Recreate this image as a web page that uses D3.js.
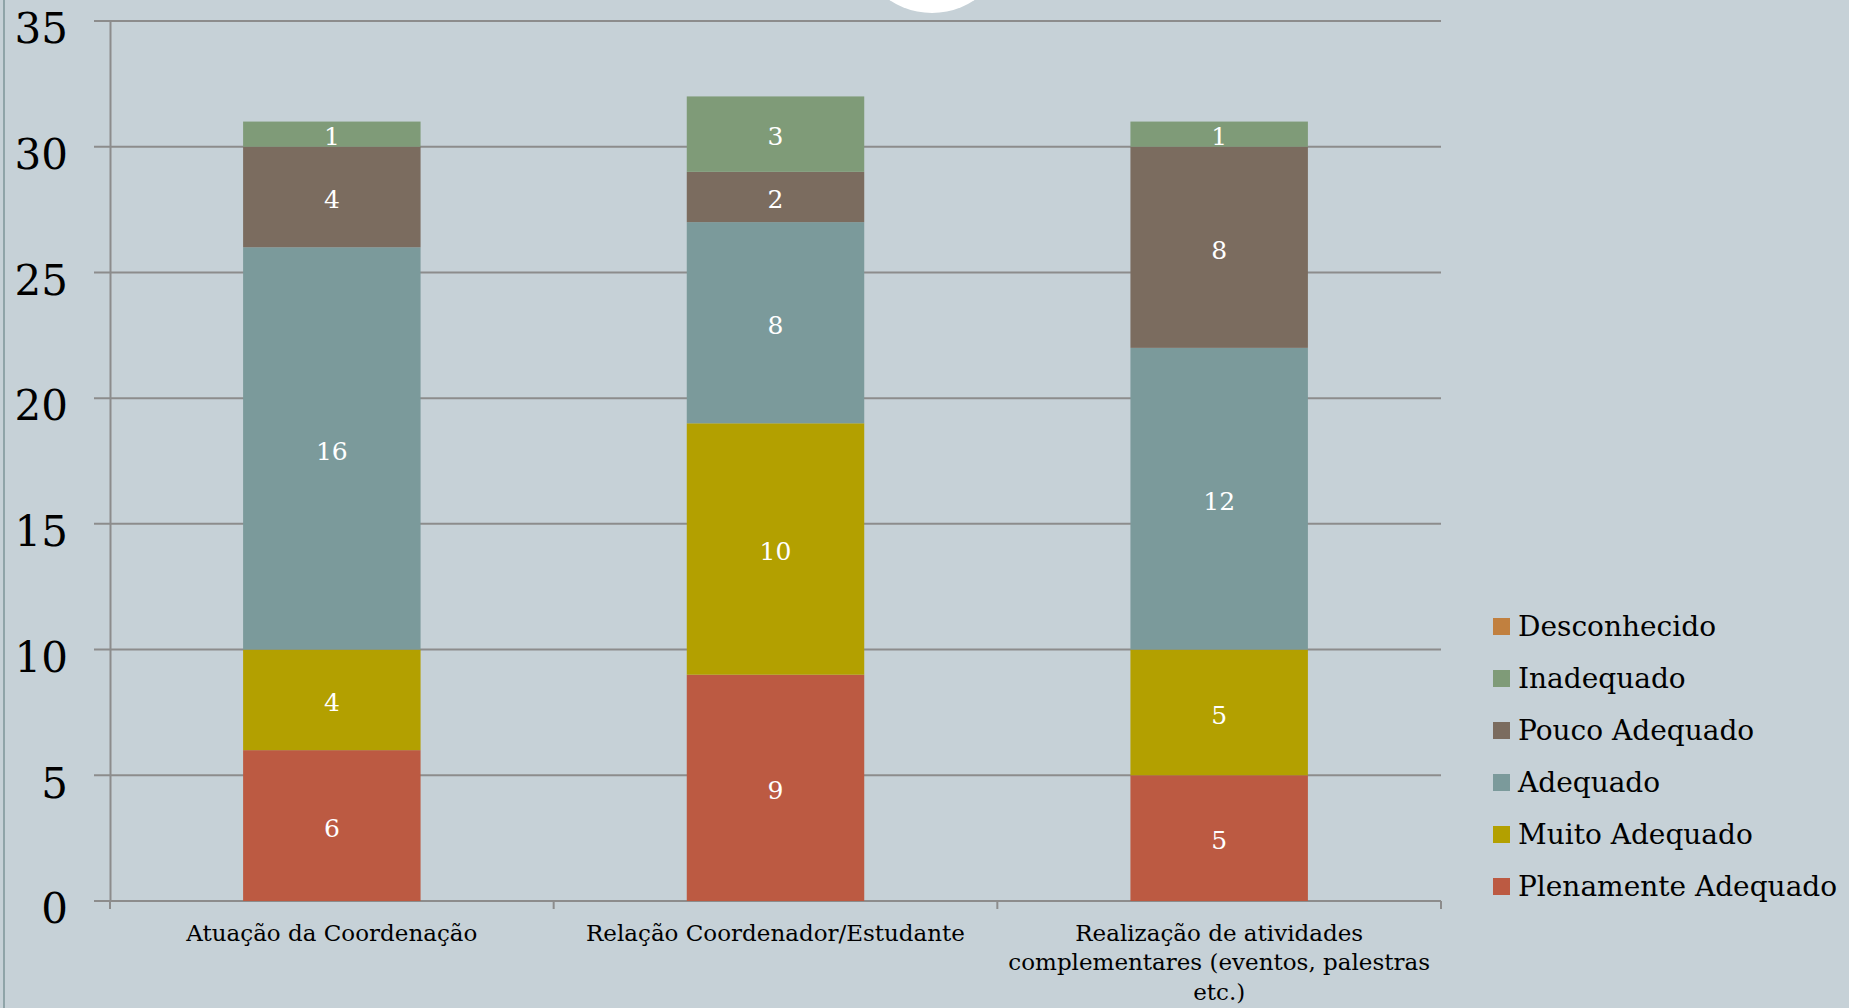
<!DOCTYPE html>
<html>
<head>
<meta charset="utf-8">
<script src="https://cdn.jsdelivr.net/npm/d3@7"></script>
<style>
  body { margin: 0; background: #c6d1d7; }
  svg text { font-family: "DejaVu Serif", serif; }
</style>
</head>
<body>
<div id="chart"></div>
<script>
// Categories on the x axis
let categories = ["Atuação da Coordenação", "Relação Coordenador/Estudante",
    "Realização de atividades complementares (eventos, palestras etc.)"];

// Series, bottom of the stack first
let seriesNames = ["Plenamente Adequado", "Muito Adequado", "Adequado",
    "Pouco Adequado", "Inadequado", "Desconhecido"];
let plenamente = [6, 9, 5];
let muito = [4, 10, 5];
let adequado = [16, 8, 12];
let pouco = [4, 2, 8];
let inadequado = [1, 3, 1];
let desconhecido = [0, 0, 0];
let seriesValues = [plenamente, muito, adequado, pouco, inadequado, desconhecido];
let colors = ["#bc5a42", "#b3a000", "#7b9a9b", "#7b6c5f", "#7f9b78", "#c1803f"];

let yTicks = [0, 5, 10, 15, 20, 25, 30, 35];

let width = 1849,
    height = 1008;
let margin = {top: 21, right: 408, bottom: 107, left: 110};

let svg = d3.select("#chart")
    .append("svg")
    .attr("width", width)
    .attr("height", height);

// slide decoration: left border and white circle peeking from the top
svg.append("rect")
    .attr("x", 3).attr("y", 0)
    .attr("width", 2).attr("height", height)
    .attr("fill", "#8fa4a8");
svg.append("circle")
    .attr("cx", 932).attr("cy", -63).attr("r", 76)
    .attr("fill", "#ffffff");

// build rows for d3.stack
let rows = categories.map((c, i) => {
    let row = {category: c};
    seriesNames.forEach((s, j) => row[s] = seriesValues[j][i]);
    return row;
});
let stacked = d3.stack().keys(seriesNames)(rows);

let x = d3.scaleBand()
    .domain(categories)
    .range([margin.left, width - margin.right])
    .paddingInner(0.6)
    .paddingOuter(0.3);

let y = d3.scaleLinear()
    .domain([0, 35])
    .range([height - margin.bottom, margin.top]);

let color = d3.scaleOrdinal().domain(seriesNames).range(colors);

// gridlines (they also stick out to the left as ticks)
svg.append("g")
    .selectAll("line")
    .data(yTicks)
    .enter()
    .append("line")
    .attr("x1", margin.left - 16)
    .attr("x2", width - margin.right)
    .attr("y1", d => y(d))
    .attr("y2", d => y(d))
    .attr("stroke", "#8c8c8c")
    .attr("stroke-width", 2);

// y axis with labels
let yAxis = svg.append("g")
    .attr("transform", `translate(${margin.left}, 0)`)
    .call(d3.axisLeft(y).tickValues(yTicks).tickSize(0).tickSizeOuter(0).tickPadding(42));
yAxis.select(".domain").attr("stroke", "#8c8c8c").attr("stroke-width", 2);
yAxis.selectAll("text")
    .attr("dy", "0.52em")
    .style("font-size", "42px")
    .style("font-family", '"DejaVu Serif", serif')
    .attr("fill", "#000");

// category separators on the x axis
let bounds = d3.range(categories.length + 1).map(i => margin.left + i * x.step());
svg.append("g")
    .selectAll("line")
    .data(bounds)
    .enter()
    .append("line")
    .attr("x1", d => d).attr("x2", d => d)
    .attr("y1", y(0)).attr("y2", y(0) + 8)
    .attr("stroke", "#8c8c8c")
    .attr("stroke-width", 2);

// stacked bars
let layers = svg.append("g")
    .selectAll("g")
    .data(stacked)
    .enter()
    .append("g")
    .attr("fill", d => color(d.key));

layers.selectAll("rect")
    .data(d => d)
    .enter()
    .append("rect")
    .attr("x", d => x(d.data.category))
    .attr("y", d => y(d[1]))
    .attr("width", x.bandwidth())
    .attr("height", d => y(d[0]) - y(d[1]));

// value labels inside segments
layers.selectAll("text")
    .data(d => d.filter(p => p[1] - p[0] > 0))
    .enter()
    .append("text")
    .attr("x", d => x(d.data.category) + x.bandwidth() / 2)
    .attr("y", d => y((d[0] + d[1]) / 2))
    .attr("dy", "0.45em")
    .attr("text-anchor", "middle")
    .attr("fill", "#ffffff")
    .style("font-size", "25px")
    .text(d => d[1] - d[0]);

// category labels, wrapped to the band step
let catLabels = svg.append("g")
    .selectAll("text")
    .data(categories)
    .enter()
    .append("text")
    .attr("x", d => x(d) + x.bandwidth() / 2)
    .attr("y", y(0) + 40)
    .attr("text-anchor", "middle")
    .attr("fill", "#000")
    .style("font-size", "23px");

catLabels.each(function(d) {
    let text = d3.select(this);
    let words = d.split(" ");
    let line = [];
    let cx = text.attr("x");
    let tspan = text.append("tspan").attr("x", cx).attr("dy", 0);
    words.forEach(w => {
        line.push(w);
        tspan.text(line.join(" "));
        if (tspan.node().getComputedTextLength() > x.step() - 10 && line.length > 1) {
            line.pop();
            tspan.text(line.join(" "));
            line = [w];
            tspan = text.append("tspan").attr("x", cx).attr("dy", "1.28em").text(w);
        }
    });
});

// legend, top entry is the last series
let legendItems = seriesNames.slice().reverse();
let legend = svg.append("g")
    .selectAll("g")
    .data(legendItems)
    .enter()
    .append("g")
    .attr("transform", (d, i) => `translate(1493, ${618 + i * 52})`);

legend.append("rect")
    .attr("width", 17)
    .attr("height", 17)
    .attr("fill", d => color(d));

legend.append("text")
    .attr("x", 25)
    .attr("y", 18)
    .attr("fill", "#000")
    .style("font-size", "28px")
    .text(d => d);
</script>
</body>
</html>
